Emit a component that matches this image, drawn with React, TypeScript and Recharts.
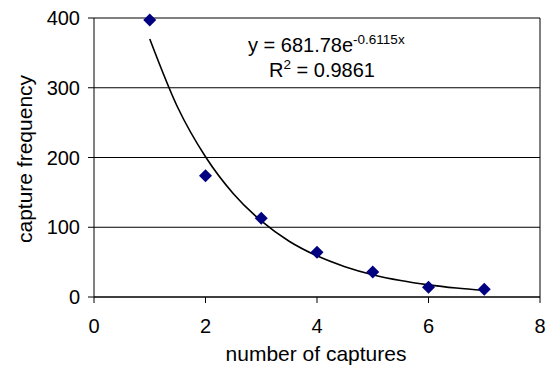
import React from "react";
import {
  ComposedChart,
  Scatter,
  Line,
  XAxis,
  YAxis,
  CartesianGrid,
  ReferenceLine,
  Customized,
} from "recharts";

// observed capture counts
const captures = [1, 2, 3, 4, 5, 6, 7];
const frequency = [397, 174, 113, 64, 36, 14, 11];

// fitted exponential trend
const trendX = [1, 1.5, 2, 2.5, 3, 3.5, 4, 4.5, 5, 5.5, 6, 6.5, 7];
const trendY = [370, 272, 201, 148, 109, 80, 59, 43.5, 32, 23.6, 17.4, 12.8, 9.4];

const xTicks = [0, 2, 4, 6, 8];
const yTicks = [0, 100, 200, 300, 400];

const points = captures.map((x, i) => ({ x, y: frequency[i] }));
const trend = trendX.map((x, i) => ({ x, y: trendY[i] }));

const FONT = "'Liberation Sans', Arial, sans-serif";

const Diamond = (props: any) => {
  const { cx, cy } = props;
  const r = 6.5;
  return (
    <polygon
      points={`${cx},${cy - r} ${cx + r},${cy} ${cx},${cy + r} ${cx - r},${cy}`}
      fill="#000080"
    />
  );
};

const Labels = () => (
  <g fontFamily={FONT} fill="#000">
    <text x={248} y={52} fontSize={20}>
      y = 681.78e
      <tspan fontSize={13.5} dy={-8}>-0.6115x</tspan>
    </text>
    <text x={269} y={77} fontSize={20}>
      R<tspan fontSize={13.5} dy={-8}>2</tspan>
      <tspan dy={8}> = 0.9861</tspan>
    </text>
    <text x={316} y={361} fontSize={21} textAnchor="middle">
      number of captures
    </text>
    <text
      x={0}
      y={0}
      fontSize={21}
      textAnchor="middle"
      transform="translate(32,159) rotate(-90)"
    >
      capture frequency
    </text>
  </g>
);

export default function App() {
  return (
    <div style={{ position: "absolute", left: 0, top: 0, background: "#fff" }}>
      <ComposedChart
        width={555}
        height={365}
        margin={{ top: 18, right: 15, bottom: 0, left: 0 }}
      >
        <CartesianGrid horizontal vertical={false} stroke="#000" strokeWidth={1} />
        <XAxis
          type="number"
          dataKey="x"
          domain={[0, 8]}
          ticks={xTicks}
          height={68}
          stroke="#000"
          tickSize={6}
          tickMargin={16}
          tick={{ fill: "#000", fontSize: 20, fontFamily: FONT }}
        />
        <YAxis
          type="number"
          dataKey="y"
          domain={[0, 400]}
          ticks={yTicks}
          width={94}
          stroke="#000"
          tickSize={6}
          tickMargin={8}
          tick={{ fill: "#000", fontSize: 20, fontFamily: FONT }}
        />
        <ReferenceLine x={8} stroke="#000" />
        <Line
          data={trend}
          dataKey="y"
          type="monotone"
          stroke="#000"
          strokeWidth={1.6}
          dot={false}
          activeDot={false}
          isAnimationActive={false}
        />
        <Scatter
          data={points}
          dataKey="y"
          shape={Diamond}
          isAnimationActive={false}
        />
        <Customized component={Labels} />
      </ComposedChart>
    </div>
  );
}
